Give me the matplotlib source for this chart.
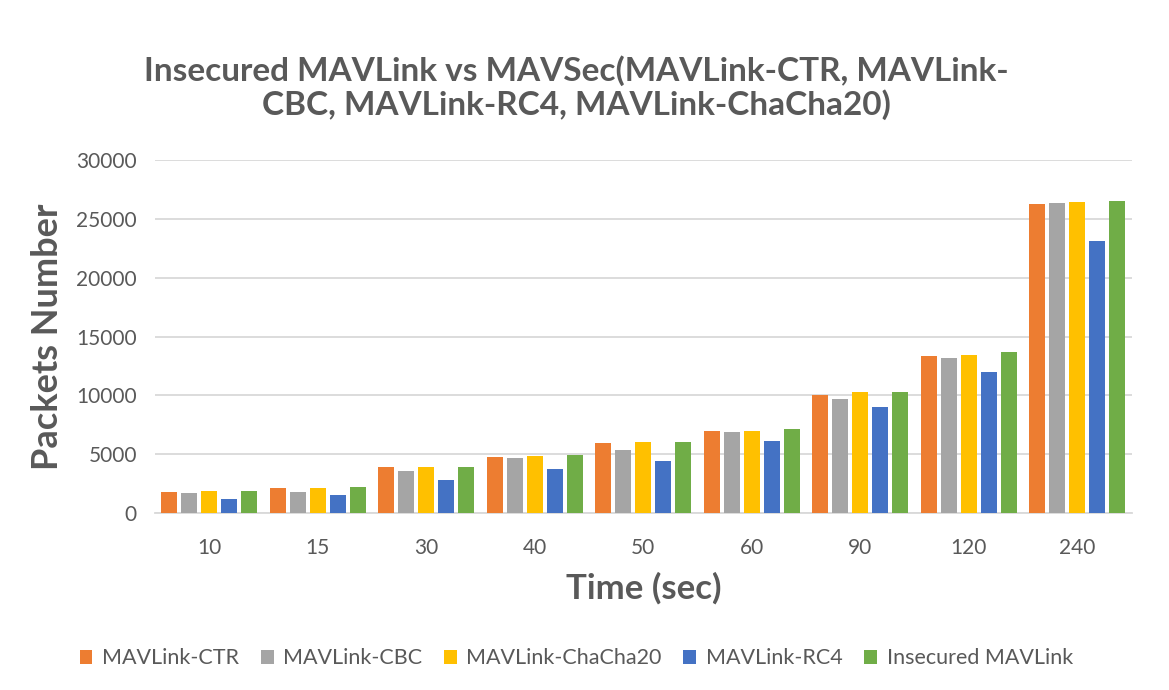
import matplotlib.pyplot as plt
import numpy as np

# data
times = ["10", "15", "30", "40", "50", "60", "90", "120", "240"]
ctr = [1770, 2110, 3880, 4770, 5940, 6970, 9990, 13370, 26280]
cbc = [1660, 1770, 3600, 4660, 5370, 6860, 9680, 13180, 26370]
chacha = [1830, 2140, 3880, 4850, 6050, 7010, 10280, 13460, 26450]
rc4 = [1150, 1490, 2800, 3770, 4450, 6110, 9030, 12010, 23120]
insecure = [1910, 2220, 3910, 4970, 6030, 7100, 10310, 13650, 26540]

series = [
    ("MAVLink-CTR", ctr, "#ED7D31"),
    ("MAVLink-CBC", cbc, "#A5A5A5"),
    ("MAVLink-ChaCha20", chacha, "#FFC000"),
    ("MAVLink-RC4", rc4, "#4472C4"),
    ("Insecured MAVLink", insecure, "#70AD47"),
]

plt.rcParams['font.family'] = ['Lato', 'DejaVu Sans']
txt = "#595959"

fig = plt.figure(figsize=(11.69, 6.9), dpi=100)
ax = fig.add_axes([0.1326, 0.2565, 0.8354, 0.5115])

x = np.arange(len(times))
step = 0.184
width = 0.148
for i, (name, vals, col) in enumerate(series):
    ax.bar(x + (i - 2) * step, vals, width, color=col, label=name, zorder=3)

ax.set_xlim(-0.5, len(times) - 0.5)
ax.set_ylim(0, 30000)
ax.set_yticks(range(0, 30001, 5000))
ax.set_xticks(x)
ax.set_xticklabels(times)
ax.grid(axis='y', color='#D9D9D9', linewidth=1.3, zorder=0)
for s in ['top', 'right', 'left']:
    ax.spines[s].set_visible(False)
ax.spines['bottom'].set_color('#D9D9D9')
ax.spines['bottom'].set_linewidth(1.3)
ax.tick_params(axis='both', length=0, labelsize=15, colors=txt)
ax.tick_params(axis='y', pad=13)
ax.tick_params(axis='x', pad=18)

ax.set_ylabel("Packets Number", fontsize=26, fontweight='bold', color=txt, labelpad=9)
ax.set_xlabel("Time (sec)", fontsize=25, fontweight='bold', color=txt, labelpad=10)

fig.text(0.493, 0.873, "Insecured MAVLink vs MAVSec(MAVLink-CTR, MAVLink-\nCBC, MAVLink-RC4, MAVLink-ChaCha20)",
         ha='center', va='center', fontsize=24, fontweight='bold', color=txt, linespacing=1.12)

leg = fig.legend(loc='center', bbox_to_anchor=(0.493, 0.046), ncol=5, frameon=False,
                 fontsize=15.5, handlelength=0.6, handleheight=0.6, columnspacing=1.0,
                 handletextpad=0.45)
for t in leg.get_texts():
    t.set_color(txt)

fig.savefig("out.png", dpi=100)
